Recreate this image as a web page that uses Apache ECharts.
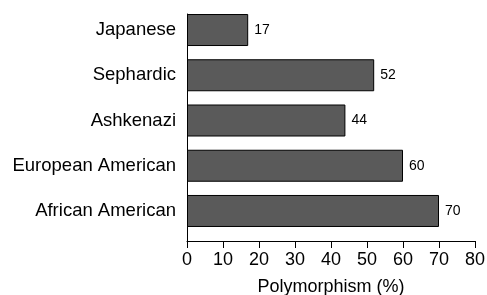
<!DOCTYPE html>
<html>
<head>
<meta charset="utf-8">
<script src="https://cdn.jsdelivr.net/npm/echarts@6/dist/echarts.min.js"></script>
<style>
  html, body { margin: 0; padding: 0; background: #fff; }
  #chart { width: 487px; height: 295px; }
</style>
</head>
<body>
<div id="chart"></div>
<script>
// data
var categories = ['Japanese', 'Sephardic', 'Ashkenazi', 'European American', 'African American'];
var values = [17, 52, 44, 60, 70];
var xTicks = [0, 10, 20, 30, 40, 50, 60, 70, 80];

var font = '"Liberation Sans", Arial, sans-serif';
var chart = echarts.init(document.getElementById('chart'));

var option = {
    animation: false,
    textStyle: { fontFamily: font },
    grid: [
        // bars
        { left: 187, right: 12, top: 7.4, bottom: 61.4, containLabel: false, outerBoundsMode: 'none' },
        // axes frame
        { left: 187, right: 12, top: 14, bottom: 54, containLabel: false, outerBoundsMode: 'none' }
    ],
    xAxis: [
        { gridIndex: 0, type: 'value', min: 0, max: 80, show: false },
        {
            gridIndex: 1,
            type: 'value',
            min: xTicks[0],
            max: xTicks[xTicks.length - 1],
            interval: 10,
            splitLine: { show: false },
            axisLine: { show: true, lineStyle: { color: '#000', width: 1 } },
            axisTick: { show: true, length: 7, lineStyle: { color: '#000' } },
            axisLabel: { color: '#000', fontSize: 18, margin: 10, fontFamily: font },
            name: 'Polymorphism (%)',
            nameLocation: 'middle',
            nameGap: 37,
            nameTextStyle: { color: '#000', fontSize: 18, fontFamily: font }
        }
    ],
    yAxis: [
        {
            gridIndex: 0,
            type: 'category',
            inverse: true,
            data: categories,
            axisLine: { show: false },
            axisTick: { show: false },
            axisLabel: { color: '#000', fontSize: 18.5, margin: 11, fontFamily: font }
        },
        {
            gridIndex: 1,
            type: 'category',
            data: categories,
            axisLine: { show: true, lineStyle: { color: '#000', width: 1 } },
            axisTick: { show: false },
            axisLabel: { show: false }
        }
    ],
    series: [
        {
            type: 'bar',
            xAxisIndex: 0,
            yAxisIndex: 0,
            data: values,
            barWidth: 32,
            itemStyle: { color: '#5a5a5a', borderColor: '#000', borderWidth: 1 },
            label: {
                show: true,
                position: 'right',
                distance: 6,
                color: '#000',
                fontSize: 14,
                fontFamily: font
            }
        },
        { type: 'bar', xAxisIndex: 1, yAxisIndex: 1, data: [] }
    ]
};

chart.setOption(option);
</script>
</body>
</html>
